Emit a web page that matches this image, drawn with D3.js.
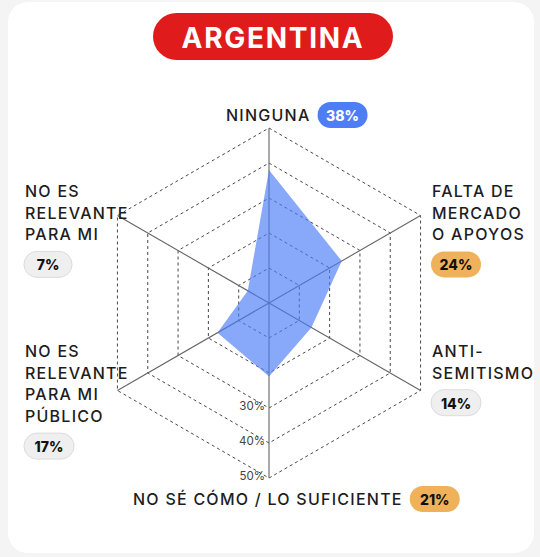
<!DOCTYPE html>
<html><head><meta charset="utf-8">
<script src="https://cdn.jsdelivr.net/npm/d3@7"></script>
<style>
html,body{margin:0;padding:0;background:#f4f4f4;}
svg{display:block;font-family:Inter, "Open Sans", sans-serif;}
</style></head>
<body><svg id="c" width="540" height="557"></svg>
<script>
// ---- data ----
const title = "ARGENTINA";
const categories = ["NINGUNA", "FALTA DE MERCADO O APOYOS", "ANTI-SEMITISMO", "NO SÉ CÓMO / LO SUFICIENTE", "NO ES RELEVANTE PARA MI PÚBLICO", "NO ES RELEVANTE PARA MI"];
const labelLines = [["NINGUNA"], ["FALTA DE", "MERCADO", "O APOYOS"], ["ANTI-", "SEMITISMO"], ["NO SÉ CÓMO / LO SUFICIENTE"], ["NO ES", "RELEVANTE", "PARA MI", "PÚBLICO"], ["NO ES", "RELEVANTE", "PARA MI"]];
const values = [38, 24, 14, 21, 17, 7];
const ringLevels = [10, 20, 30, 40, 50];
const tickLabels = ["30%", "40%", "50%"];
const tickValues = [30, 40, 50];

// ---- layout ----
const svg = d3.select("#c");
const cx = 269, cy = 303;
const r = d3.scaleLinear().domain([0, 50]).range([0, 175]);
const ang = d3.scaleLinear().domain([0, categories.length]).range([0, 2 * Math.PI]);
const pt = (i, v) => [cx + r(v) * Math.sin(ang(i)), cy - r(v) * Math.cos(ang(i))];

// card
svg.append("rect").attr("x", 8).attr("y", 2).attr("width", 526).attr("height", 551)
  .attr("rx", 20).attr("fill", "#fff");

// title pill
svg.append("rect").attr("x", 153).attr("y", 13).attr("width", 240).attr("height", 47)
  .attr("rx", 23.5).attr("fill", "#e01b1b");
svg.append("text").attr("x", 273).attr("y", 38).attr("text-anchor", "middle")
  .attr("dominant-baseline", "central").attr("fill", "#fff")
  .attr("font-size", 28).attr("font-weight", 700).attr("letter-spacing", 1.7).text(title);

// rings
const line = d3.line();
svg.append("g").selectAll("path").data(ringLevels).join("path")
  .attr("d", lv => line(categories.map((c, i) => pt(i, lv))) + "Z")
  .attr("fill", "none").attr("stroke", "#333").attr("stroke-width", 0.9)
  .attr("stroke-dasharray", "3,3");

// axes
svg.append("g").selectAll("line").data(categories).join("line")
  .attr("x1", cx).attr("y1", cy)
  .attr("x2", (c, i) => pt(i, 50)[0]).attr("y2", (c, i) => pt(i, 50)[1])
  .attr("stroke", "#666").attr("stroke-width", 1.1);

// data polygon
svg.append("path")
  .attr("d", line(values.map((v, i) => pt(i, v))) + "Z")
  .attr("fill", "#4a7bf7").attr("fill-opacity", 0.66).attr("stroke", "none");

// tick labels
svg.append("g").selectAll("text").data(tickValues).join("text")
  .attr("x", cx - 4).attr("y", v => cy + r(v) - 2)
  .attr("text-anchor", "end").attr("dominant-baseline", "central")
  .attr("font-size", 11.5).attr("fill", "#444").text((v, i) => tickLabels[i]);

// badges: rank-based colours
const order = values.map((v, i) => i).sort((a, b) => values[b] - values[a]);
const rank = values.map((v, i) => order.indexOf(i));
const badgeFill = k => k === 0 ? "#4e7df6" : (k < 3 ? "#efb15a" : "#efefef");
const badgeText = k => k === 0 ? "#fff" : "#111";
const badgeStroke = k => k < 3 ? "none" : "#dcdcdc";

// label placement per category
const labelPos = [
  {x: 226, y: 115, inline: true},
  {x: 432, y: 191},
  {x: 432, y: 351},
  {x: 133, y: 499, inline: true},
  {x: 25, y: 351},
  {x: 25, y: 191}
];
const lh = 21.7;
const fs = 16;
categories.forEach((c, i) => {
  const p = labelPos[i];
  const g = svg.append("g");
  const t = g.append("text").attr("font-size", fs).attr("font-weight", 500)
    .attr("fill", "#1d1d1d").attr("letter-spacing", 1.25);
  labelLines[i].forEach((ln, j) => {
    t.append("tspan").attr("x", p.x).attr("y", p.y + j * lh)
      .attr("dominant-baseline", "central").text(ln);
  });
  const txt = values[i] + "%";
  const bw = txt.length === 2 ? 48 : 50;
  let bx, by, bh = 26;
  if (p.inline) {
    const w = t.node().getComputedTextLength();
    bx = p.x + w + 7; by = p.y - bh / 2;
  } else {
    bx = p.x - 1; by = p.y + (labelLines[i].length - 1) * lh + 17;
  }
  const k = rank[i];
  g.append("rect").attr("x", bx).attr("y", by).attr("width", bw).attr("height", bh)
    .attr("rx", 13).attr("fill", badgeFill(k)).attr("stroke", badgeStroke(k));
  g.append("text").attr("x", bx + bw / 2).attr("y", by + bh / 2 + 0.5)
    .attr("text-anchor", "middle").attr("dominant-baseline", "central")
    .attr("font-size", 14).attr("font-weight", 800).attr("fill", badgeText(k)).text(txt);
});
</script></body></html>
